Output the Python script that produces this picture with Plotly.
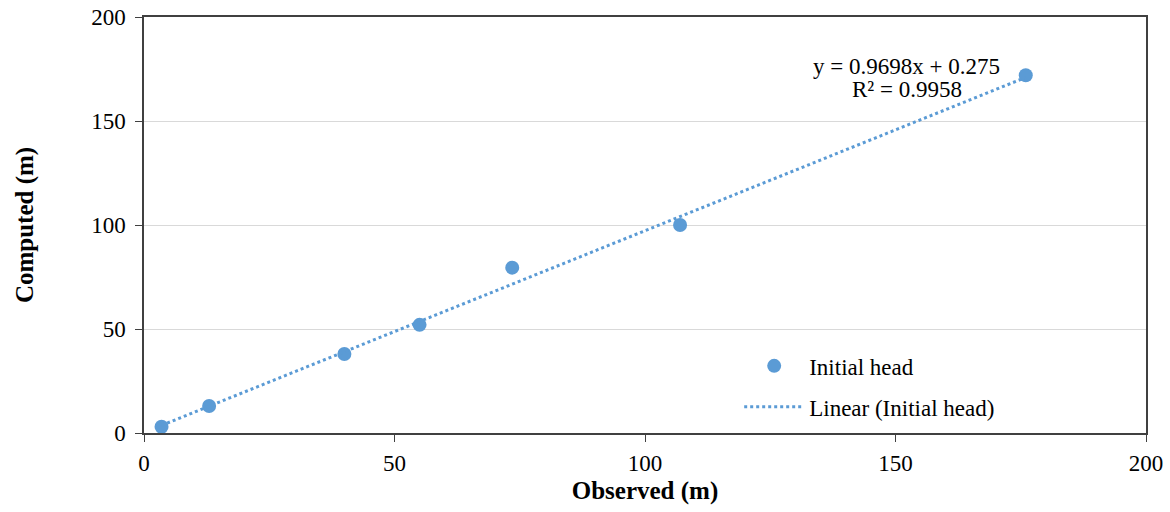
import plotly.graph_objects as go

observed = [3.5, 13, 40, 55, 73.5, 107, 176]
computed = [3, 13, 38, 52, 79.5, 100, 172]
slope = 0.9698
intercept = 0.275
eq_text = "y = 0.9698x + 0.275"
r2_text = "R² = 0.9958"
ticks = [0, 50, 100, 150, 200]

blue = "#5B9BD5"
font = "Liberation Serif, Times New Roman, serif"

xs = [min(observed), max(observed)]
ys = [slope * v + intercept for v in xs]

fig = go.Figure()
fig.add_trace(go.Scatter(x=observed, y=computed, mode="markers", name="Initial head",
                         marker=dict(color=blue, size=14), legendgroup="a"))
fig.add_trace(go.Scatter(x=xs, y=ys, mode="lines", name="Linear (Initial head)",
                         line=dict(color=blue, width=3, dash="dot"), legendgroup="b"))

for txt, yp in [(eq_text, 0.882), (r2_text, 0.825)]:
    fig.add_annotation(x=0.761, y=yp, xref="paper", yref="paper", xanchor="center", yanchor="middle",
                       text=txt, showarrow=False,
                       font=dict(family=font, size=23, color="#000"), align="center")

axis_common = dict(range=[0, 200], tickvals=ticks, showline=True, linecolor="#404040",
                   linewidth=1.5, mirror=True, ticks="outside", ticklen=7, tickcolor="#404040",
                   tickfont=dict(family=font, size=23, color="#000"), zeroline=False,
                   automargin=False)

fig.update_layout(
    width=1170, height=512,
    margin=dict(l=144, r=24, t=17, b=79),
    plot_bgcolor="white", paper_bgcolor="white",
    xaxis=dict(**axis_common, showgrid=False, ticklabelstandoff=2,
               title=dict(text="<b>Observed (m)</b>", font=dict(family=font, size=25, color="#000"), standoff=6)),
    yaxis=dict(**axis_common, showgrid=True, gridcolor="#D9D9D9", gridwidth=1, ticklabelstandoff=5,
               title=dict(text="<b>Computed (m)</b>", font=dict(family=font, size=25, color="#000"), standoff=50)),
    legend=dict(x=0.594, y=0.213, xanchor="left", yanchor="top", bgcolor="rgba(0,0,0,0)",
                font=dict(family=font, size=23, color="#000"), traceorder="grouped",
                tracegroupgap=8, itemwidth=60),
    showlegend=True,
)

fig.write_html("out.html")
